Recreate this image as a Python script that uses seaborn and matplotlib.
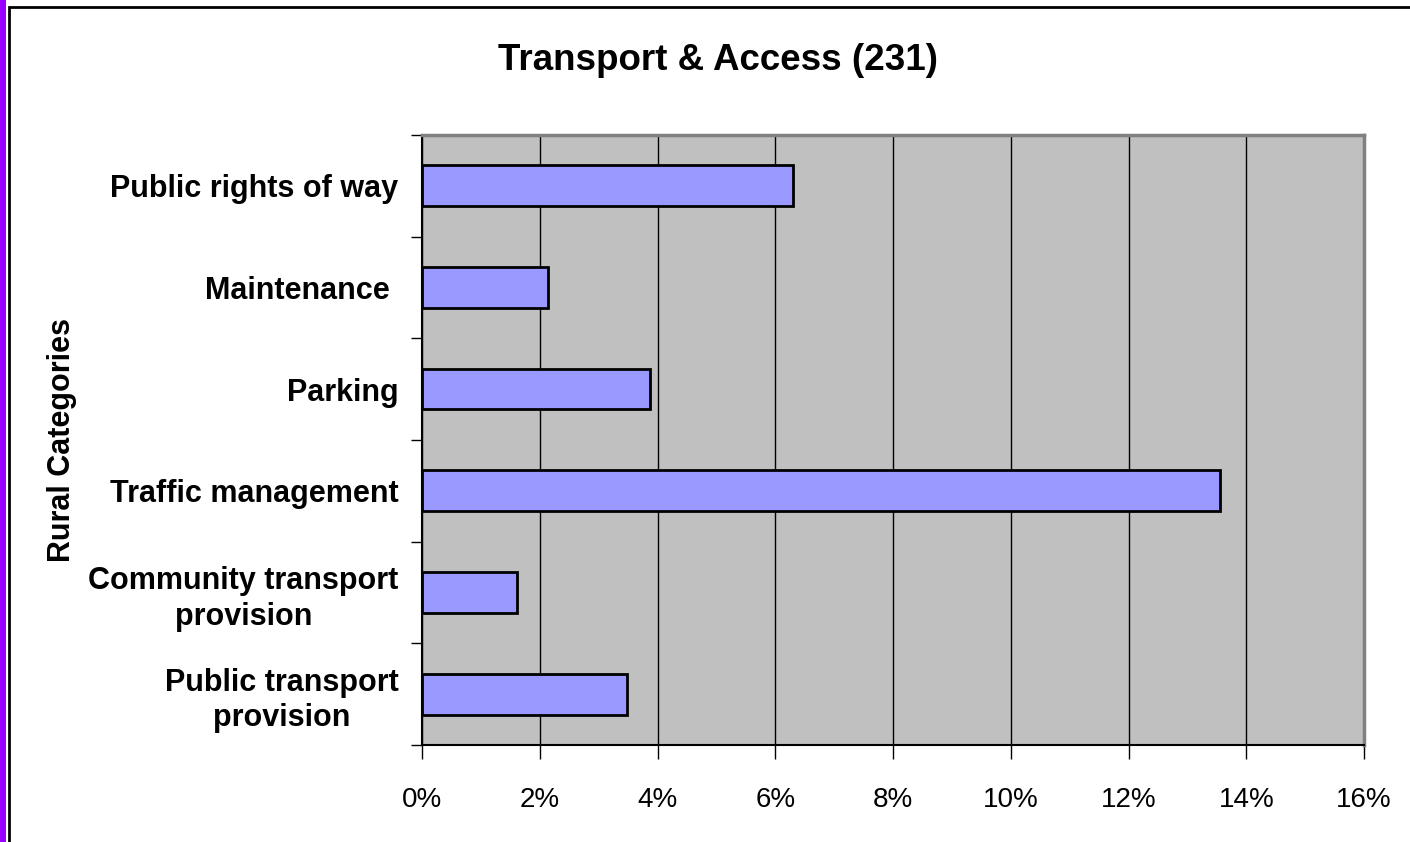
import numpy as np
import pandas as pd
import matplotlib
matplotlib.use("Agg")
import matplotlib.pyplot as plt
import seaborn as sns
from matplotlib.patches import Rectangle
from matplotlib.ticker import FuncFormatter, FixedLocator

categories = [
    "Public rights of way",
    "Maintenance ",
    "Parking",
    "Traffic management",
    "Community transport\nprovision",
    "Public transport\nprovision",
]
percent = [6.3, 2.14, 3.87, 13.55, 1.61, 3.48]
x_ticks = [0, 2, 4, 6, 8, 10, 12, 14, 16]

df = pd.DataFrame({"Category": categories, "Percent": percent})

sns.set_style("white")
plt.rcParams["font.family"] = ["Liberation Sans", "DejaVu Sans"]
plt.rcParams["text.color"] = "black"
plt.rcParams["axes.labelcolor"] = "black"
plt.rcParams["xtick.color"] = "black"
plt.rcParams["ytick.color"] = "black"

fig = plt.figure(figsize=(14.1, 8.42), dpi=100)
ax = fig.add_axes([0.2993, 0.1152, 0.9674 - 0.2993, 0.8397 - 0.1152])
ax.set_facecolor("#c0c0c0")

sns.barplot(data=df, x="Percent", y="Category", orient="h", ax=ax,
            color="#9999ff", width=0.4, edgecolor="black", linewidth=2,
            saturation=1, zorder=3)

ax.set_xlim(0, 16)
ax.set_ylim(5.5, -0.5)
ax.xaxis.set_major_locator(FixedLocator(x_ticks))
ax.xaxis.set_major_formatter(FuncFormatter(lambda v, p: f"{v:.0f}%"))
ax.grid(axis="x", color="black", linewidth=1, zorder=1)
ax.set_axisbelow(True)

ax.yaxis.set_minor_locator(FixedLocator(np.arange(-0.5, 6, 1)))
ax.tick_params(axis="y", which="major", length=0, pad=17)
ax.tick_params(axis="y", which="minor", length=8, width=1, color="black", left=True)
ax.tick_params(axis="x", which="major", length=10, width=1, color="black",
               bottom=True, pad=20, labelsize=20)
for lab in ax.get_yticklabels():
    lab.set_fontsize(22)
    lab.set_fontweight("bold")
    lab.set_multialignment("center")
    lab.set_linespacing(1.25)

for side, sp in ax.spines.items():
    sp.set_visible(True)
    sp.set_color("#808080")
    sp.set_linewidth(2.5)
ax.spines["bottom"].set_color("black")
ax.spines["bottom"].set_linewidth(1.5)
ax.spines["left"].set_color("black")
ax.spines["left"].set_linewidth(1.5)

ax.set_xlabel("")
ax.set_ylabel("Rural Categories", fontsize=22, fontweight="bold")
ax.yaxis.set_label_coords(-0.366, 0.5)

fig.text(0.509, 0.928, "Transport & Access (231)", ha="center", va="center",
         fontsize=26.5, fontweight="bold")

# frame around the figure and the purple strip on the left
fig.patches.append(Rectangle((0, 0), 6 / 1410, 1, transform=fig.transFigure,
                             facecolor="#9900ff", edgecolor="none"))
fig.patches.append(Rectangle((9 / 1410, -0.1), 1.2, 1 - 6.5 / 842 + 0.1,
                             transform=fig.transFigure, facecolor="none",
                             edgecolor="black", linewidth=2))

fig.savefig("out.png", dpi=100)
